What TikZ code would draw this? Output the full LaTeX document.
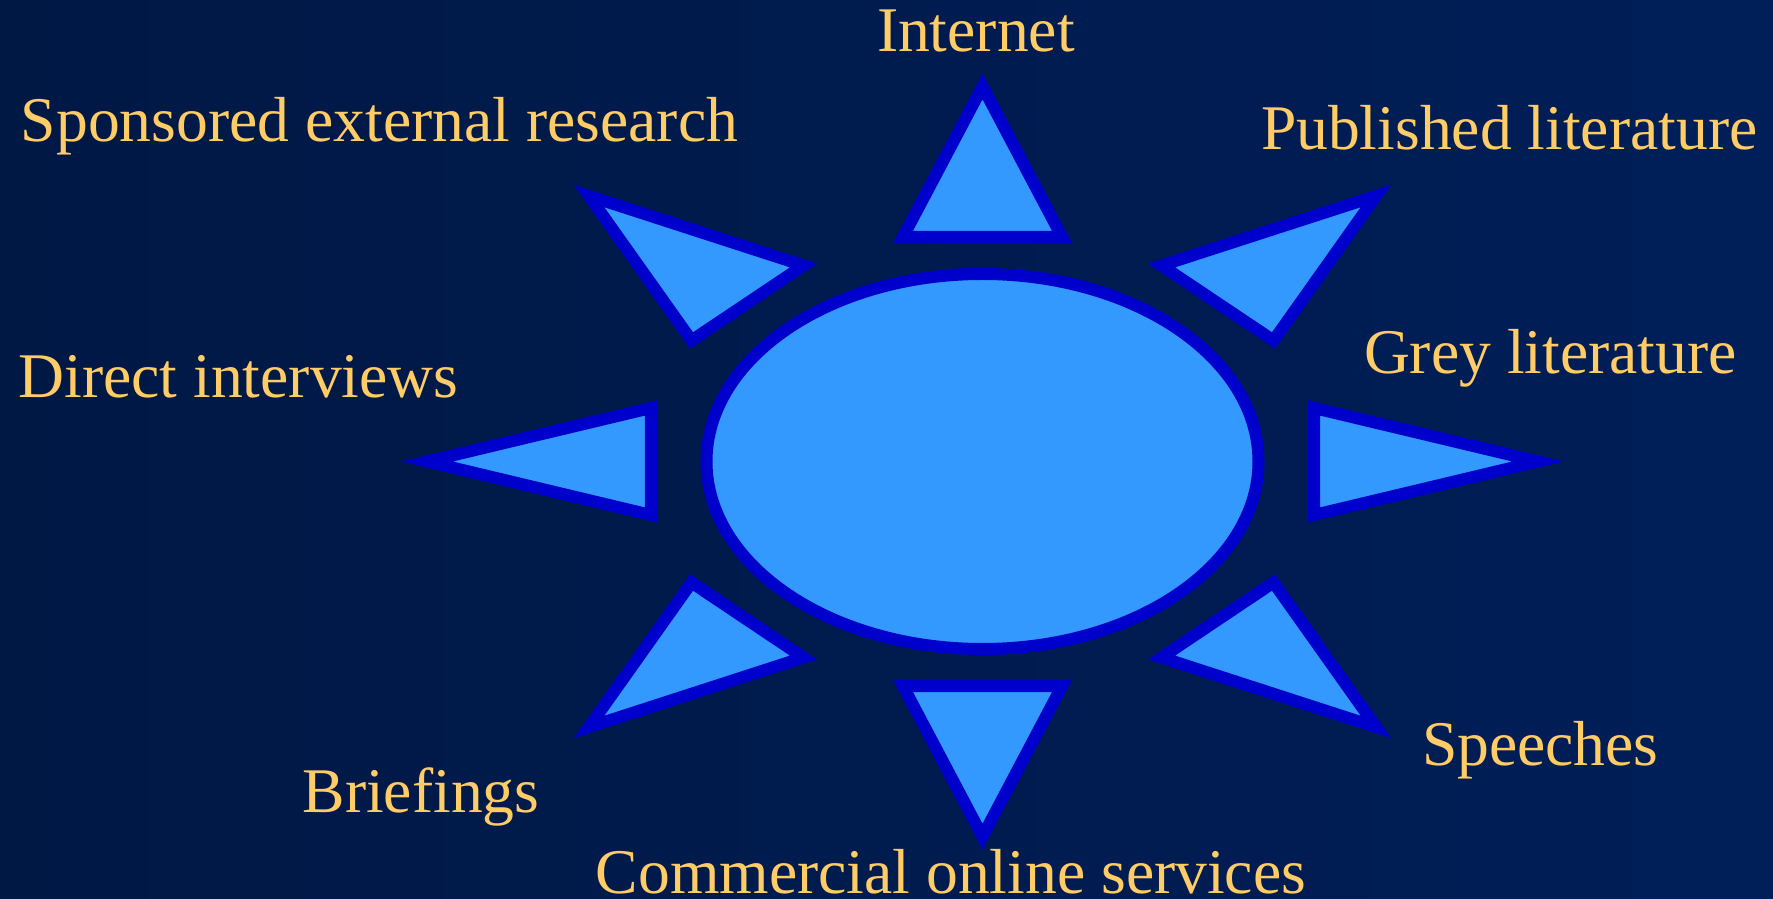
\documentclass[tikz,border=0pt]{standalone}
\usepackage{fontspec}
\setmainfont{Liberation Serif}
\usepackage{xcolor}
\usepackage{tikz}
\usetikzlibrary{shapes.geometric}
\definecolor{nightsky}{RGB}{0,24,68}
\definecolor{nightsky2}{RGB}{0,30,88}
\definecolor{sunfill}{RGB}{51,153,255}
\definecolor{sunline}{RGB}{0,0,204}
\definecolor{labelgold}{RGB}{255,204,102}
\tikzset{
%%%%%%%%%%  shape styles
sun/.style={fill=sunfill, draw=sunline, line width=0.12cm},
ray/.style={fill=sunfill, draw=sunline, line width=0.12cm, line join=miter},
%%%%%%%%%%  text styles
source/.style={text=labelgold, inner sep=0pt, outer sep=0pt, anchor=base west,
               font=\fontsize{18.1}{20}\selectfont}
}

\begin{document}
\begin{tikzpicture}
%%background
\useasboundingbox (-9.825,-4.365) rectangle (7.905,4.615);
\shade[left color=nightsky, right color=nightsky2] (-9.825,-4.365) rectangle (7.905,4.615);
%%the sun
\draw[sun] (0,0) ellipse [x radius=2.76cm, y radius=1.875cm];
%%rays, top and bottom
\draw[ray] (0,3.75) -- (-0.795,2.245) -- (0.795,2.245) -- cycle;
\draw[ray] (0,-3.75) -- (-0.795,-2.245) -- (0.795,-2.245) -- cycle;
%%rays, left and right
\draw[ray] (-5.555,0) -- (-3.315,0.535) -- (-3.315,-0.535) -- cycle;
\draw[ray] (5.555,0) -- (3.315,0.535) -- (3.315,-0.535) -- cycle;
%%rays, diagonal
\draw[ray] (-3.935,2.655) -- (-1.79,1.96) -- (-2.91,1.21) -- cycle;
\draw[ray] (3.935,2.655) -- (1.79,1.96) -- (2.91,1.21) -- cycle;
\draw[ray] (-3.935,-2.655) -- (-1.79,-1.96) -- (-2.91,-1.21) -- cycle;
\draw[ray] (3.935,-2.655) -- (1.79,-1.96) -- (2.91,-1.21) -- cycle;
%%labels
\node[source] (internet) at (-1.055,4.095) {Internet};
\node[source] (sponsored) at (-9.615,3.198) {Sponsored external research};
\node[source] (published) at (2.785,3.115) {Published literature};
\node[source] (grey) at (3.815,0.875) {Grey literature};
\node[source] (interviews) at (-9.638,0.64) {Direct interviews};
\node[source] (briefings) at (-6.798,-3.513) {Briefings};
\node[source] (speeches) at (4.395,-3.035) {Speeches};
\node[source] (commercial) at (-3.865,-4.315) {Commercial online services};
\end{tikzpicture}
\end{document}
